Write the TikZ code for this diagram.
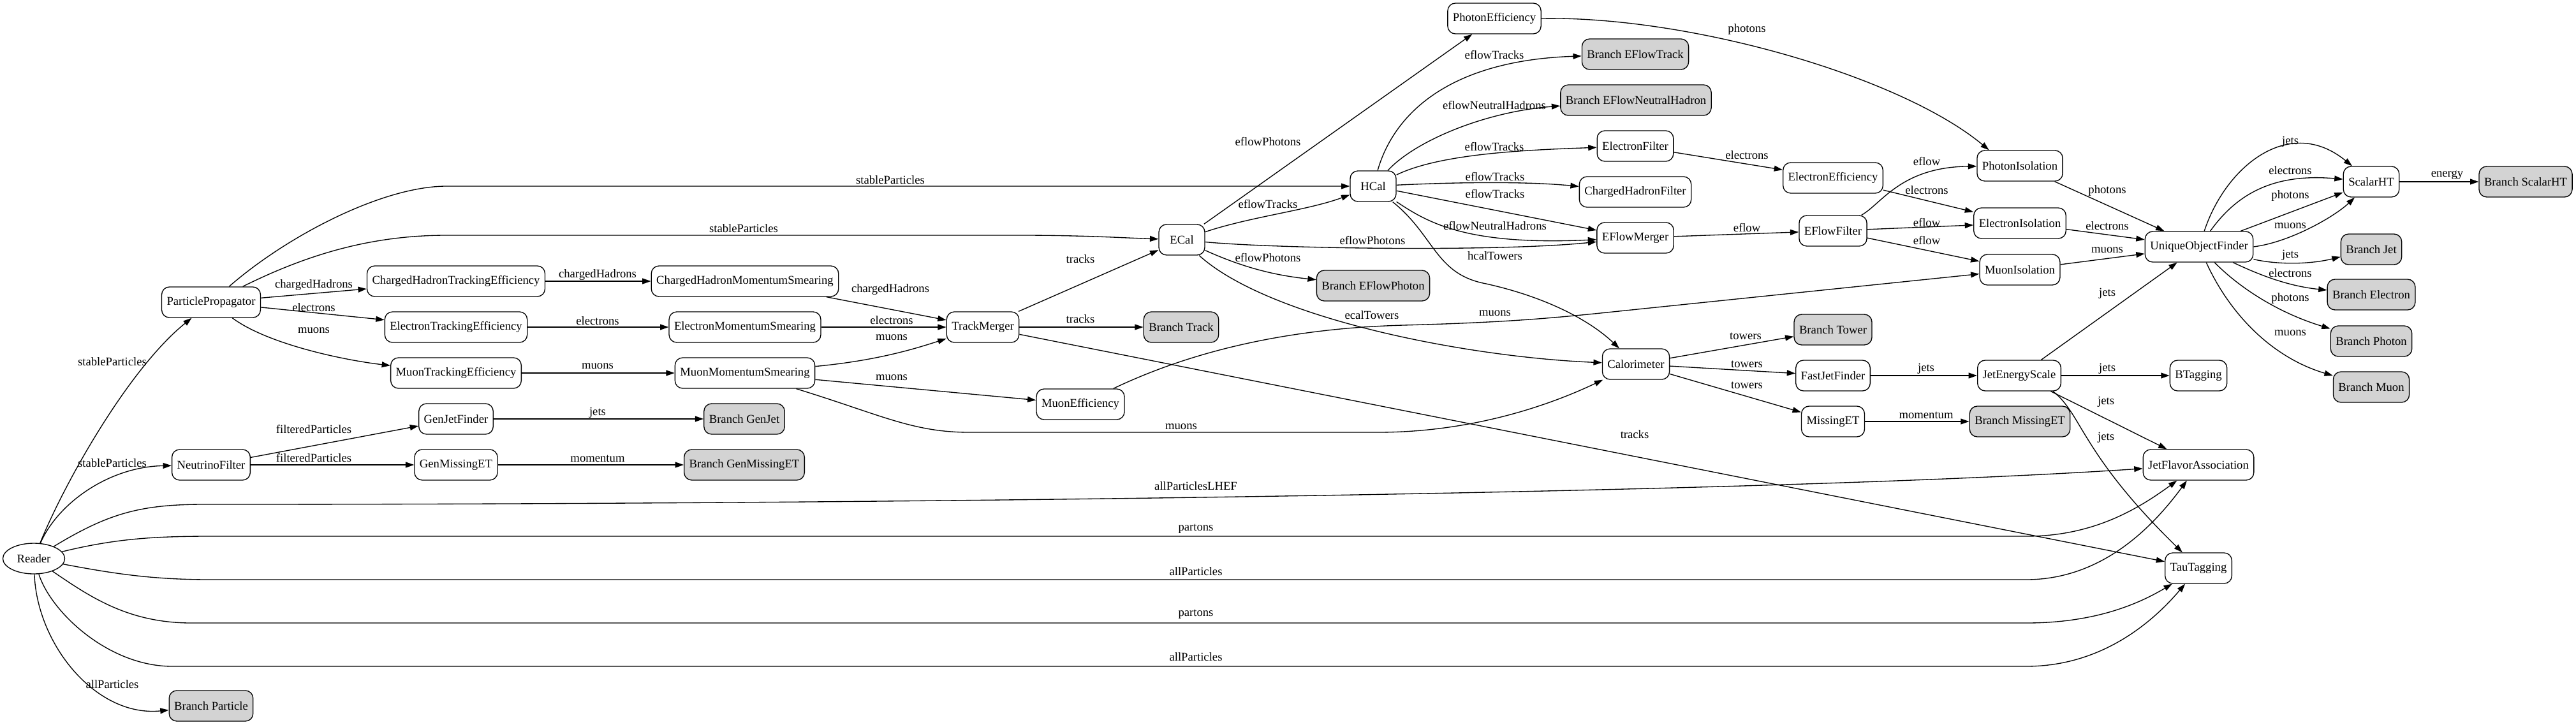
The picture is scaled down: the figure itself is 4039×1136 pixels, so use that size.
\documentclass[tikz,border=0pt]{standalone}
\usepackage{fontspec}
\setmainfont{Liberation Serif}
\usepackage[dvipsnames]{xcolor}
\usetikzlibrary{arrows.meta,shapes.geometric}
\definecolor{BranchGray}{HTML}{D3D3D3}

\begin{document}
\begin{tikzpicture}[x = 0.75pt, y = -0.75pt,
    module/.style = {draw, line width = 1pt, rounded corners = 9pt, minimum height = 36pt, minimum width = 54pt, inner xsep = 6pt, font = \fontsize{14}{16}\selectfont},
    branch/.style = {module, fill = BranchGray},
    flow/.style = {line width = 1pt, -{Triangle[length = 10pt, width = 6.7pt]}},
    edgelabel/.style = {inner sep = 0pt, font = \fontsize{14}{16}\selectfont}]
              \useasboundingbox (0,0) rectangle (4039,1136);
              \node [draw, ellipse, line width = 1pt, minimum width = 72.75pt, minimum height = 36pt, inner sep = 0pt, font = \fontsize{14}{16}\selectfont] (reader) at (53,876) {Reader};
              \foreach \name/\x/\y/\txt in {propagator/331/474/ParticlePropagator, neutrino/331/729/NeutrinoFilter,
                chte/715/441/ChargedHadronTrackingEfficiency, ete/715/513/ElectronTrackingEfficiency, mte/715/585/MuonTrackingEfficiency,
                genjet/715/657/GenJetFinder, genmet/715/729/GenMissingET,
                chms/1168/441/ChargedHadronMomentumSmearing, ems/1168/513/ElectronMomentumSmearing, mms/1168/585/MuonMomentumSmearing,
                trackmerger/1541/513/TrackMerger, muoneff/1694/634/MuonEfficiency, ecal/1853/376/ECal, hcal/2153/292/HCal,
                photoneff/2343/29/PhotonEfficiency, efilter/2564/229/ElectronFilter, chfilter/2564/301/ChargedHadronFilter,
                eflowmerger/2564/373/EFlowMerger, calo/2565/571/Calorimeter, electroneff/2874/279/ElectronEfficiency,
                eflowfilter/2874/362/EFlowFilter, fastjet/2874/589/FastJetFinder, missinget/2874/661/MissingET,
                photoniso/3167/260/PhotonIsolation, electroniso/3167/350/ElectronIsolation, muoniso/3167/423/MuonIsolation,
                jes/3166/589/JetEnergyScale, uof/3448/387/UniqueObjectFinder, btagging/3447/589/BTagging,
                jetflavor/3447/729/JetFlavorAssociation, tautagging/3447/891/TauTagging, scalarht/3718/285/ScalarHT}
              \node [module] (\name) at (\x,\y) {\txt};
              \foreach \name/\x/\y/\txt in {bparticle/331/1107/Branch Particle, bgenjet/1167/657/Branch GenJet,
                bgenmet/1167/729/Branch GenMissingET, btrack/1852/513/Branch Track, beflowphoton/2153/448/Branch EFlowPhoton,
                beflowtrack/2564/85/Branch EFlowTrack, beflowneutral/2565/157/Branch EFlowNeutralHadron,
                btower/2874/517/Branch Tower, bmissinget/3167/661/Branch MissingET, bscalarht/3960/285/Branch ScalarHT,
                bjet/3718/391/Branch Jet, belectron/3718/462/Branch Electron, bphoton/3718/535/Branch Photon,
                bmuon/3718/607/Branch Muon}
              \node [branch] (\name) at (\x,\y) {\txt};
              \foreach \from/\to/\txt/\lx/\ly [count = \i] in {propagator/chte/chargedHadrons/492/447,
                propagator/ete/electrons/492/482, chte/chms/chargedHadrons/937/431, ete/ems/electrons/937/503,
                mte/mms/muons/937/574, neutrino/genjet/filteredParticles/492/673, neutrino/genmet/filteredParticles/492/718,
                genjet/bgenjet/jets/937/647, genmet/bgenmet/momentum/937/719, chms/trackmerger/chargedHadrons/1396/454,
                ems/trackmerger/electrons/1398/502, mms/muoneff/muons/1398/592, trackmerger/ecal/tracks/1694/406,
                trackmerger/btrack/tracks/1694/500, trackmerger/tautagging/tracks/2563/681, ecal/photoneff/eflowPhotons/1988/222,
                hcal/eflowmerger/eflowTracks/2344/304, efilter/electroneff/electrons/2739/243, eflowmerger/eflowfilter/eflow/2739/357,
                electroneff/electroniso/electrons/3021/298, eflowfilter/electroniso/eflow/3021/349, eflowfilter/muoniso/eflow/3021/377,
                calo/btower/towers/2737/527, calo/fastjet/towers/2739/571, calo/missinget/towers/2739/604,
                missinget/bmissinget/momentum/3020/651, fastjet/jes/jets/3020/578, jes/btagging/jets/3304/578,
                jes/uof/jets/3304/460, jes/jetflavor/jets/3302/630, photoniso/uof/photons/3304/299,
                electroniso/uof/electrons/3304/354, muoniso/uof/muons/3304/392, uof/scalarht/photons/3591/307,
                scalarht/bscalarht/energy/3837/275}
              {\draw [flow] (\from) -- (\to);
              \node [edgelabel] (line\i) at (\lx,\ly) {\txt};}
              \draw [flow] (reader) .. controls (100,760) and (200,580) .. (propagator);
              \node [edgelabel] (l-stable1) at (176,567) {stableParticles};
              \draw [flow] (reader) .. controls (90,790) and (170,732) .. (neutrino);
              \node [edgelabel] (l-stable2) at (176,726) {stableParticles};
              \draw [flow] (reader) .. controls (58,1010) and (150,1125) .. (bparticle);
              \node [edgelabel] (l-all1) at (176,1073) {allParticles};
              \draw [flow] (reader) .. controls (170,805) and (220,791) .. (320,791) .. controls (1500,791) and (2800,772) .. (jetflavor);
              \node [edgelabel] (l-lhef) at (1875,762) {allParticlesLHEF};
              \draw [flow] (reader) .. controls (180,845) and (240,841) .. (330,841) -- (3177,841) .. controls (3280,841) and (3350,800) .. (jetflavor);
              \node [edgelabel] (l-partons1) at (1875,829) {partons};
              \draw [flow] (reader) .. controls (180,900) and (240,909) .. (330,909) -- (3177,909) .. controls (3300,909) and (3380,820) .. (jetflavor);
              \node [edgelabel] (l-all2) at (1875,896) {allParticles};
              \draw [flow] (reader) .. controls (140,935) and (200,977) .. (300,977) -- (3177,977) .. controls (3270,977) and (3340,955) .. (tautagging);
              \node [edgelabel] (l-partons2) at (1875,963) {partons};
              \draw [flow] (reader) .. controls (80,960) and (170,1045) .. (270,1045) -- (3177,1045) .. controls (3300,1045) and (3380,970) .. (tautagging);
              \node [edgelabel] (l-all3) at (1875,1030) {allParticles};
              \draw [flow] (propagator) .. controls (450,370) and (600,292) .. (700,292) -- (hcal);
              \node [edgelabel] (l-stable3) at (1396,282) {stableParticles};
              \draw [flow] (propagator) .. controls (480,400) and (580,369) .. (700,369) -- (1600,369) .. controls (1700,369) and (1760,373) .. (ecal);
              \node [edgelabel] (l-stable4) at (1166,358) {stableParticles};
              \draw [flow] (propagator) .. controls (420,540) and (540,565) .. (mte);
              \node [edgelabel] (l-muons1) at (492,518) {muons};
              \draw [flow] (mms) .. controls (1380,565) and (1440,545) .. (trackmerger);
              \node [edgelabel] (l-muons2) at (1398,529) {muons};
              \draw [flow] (mms) .. controls (1380,650) and (1430,678) .. (1520,678) -- (2160,678) .. controls (2300,678) and (2420,640) .. (calo);
              \node [edgelabel] (l-muons3) at (1852,669) {muons};
              \draw [flow] (ecal) .. controls (1960,340) and (2050,330) .. (hcal);
              \node [edgelabel] (l-etracks1) at (1988,320) {eflowTracks};
              \draw [flow] (ecal) .. controls (2000,390) and (2350,395) .. (eflowmerger);
              \node [edgelabel] (l-ephotons1) at (2152,377) {eflowPhotons};
              \draw [flow] (ecal) .. controls (1950,420) and (2000,432) .. (beflowphoton);
              \node [edgelabel] (l-ephotons2) at (1988,404) {eflowPhotons};
              \draw [flow] (ecal) .. controls (1990,500) and (2300,560) .. (calo);
              \node [edgelabel] (l-ecaltowers) at (2151,494) {ecalTowers};
              \draw [flow] (hcal) .. controls (2185,180) and (2270,95) .. (beflowtrack);
              \node [edgelabel] (l-etracks2) at (2343,86) {eflowTracks};
              \draw [flow] (hcal) .. controls (2220,220) and (2330,175) .. (beflowneutral);
              \node [edgelabel] (l-eneutral1) at (2343,165) {eflowNeutralHadrons};
              \draw [flow] (hcal) .. controls (2260,240) and (2400,235) .. (efilter);
              \node [edgelabel] (l-etracks3) at (2343,230) {eflowTracks};
              \draw [flow] (hcal) .. controls (2300,285) and (2400,285) .. (chfilter);
              \node [edgelabel] (l-etracks4) at (2344,277) {eflowTracks};
              \draw [flow] (hcal) .. controls (2240,350) and (2300,385) .. (eflowmerger);
              \node [edgelabel] (l-eneutral2) at (2344,354) {eflowNeutralHadrons};
              \draw [flow] (hcal) .. controls (2250,370) and (2250,430) .. (2330,445) .. controls (2420,465) and (2490,500) .. (calo);
              \node [edgelabel] (l-hcaltowers) at (2344,401) {hcalTowers};
              \draw [flow] (muoneff) .. controls (1870,550) and (2020,515) .. (2200,510) .. controls (2350,506) and (2420,500) .. (2500,492) -- (muoniso);
              \node [edgelabel] (l-muons4) at (2344,491) {muons};
              \draw [flow] (photoneff.east) .. controls (2650,25) and (2980,120) .. (photoniso.153);
              \node [edgelabel] (l-photons1) at (2739,46) {photons};
              \draw [flow] (eflowfilter) .. controls (2950,320) and (2980,262) .. (photoniso);
              \node [edgelabel] (l-eflow1) at (3021,253) {eflow};
              \draw [flow] (jes.-25) .. controls (3265,650) and (3262,710) .. (tautagging);
              \node [edgelabel] (l-jets1) at (3302,686) {jets};
              \draw [flow] (uof) .. controls (3490,260) and (3590,180) .. (scalarht);
              \node [edgelabel] (l-jets2) at (3591,222) {jets};
              \draw [flow] (uof) .. controls (3510,300) and (3570,272) .. (scalarht);
              \node [edgelabel] (l-electrons1) at (3591,267) {electrons};
              \draw [flow] (uof.east) .. controls (3590,380) and (3660,340) .. (scalarht);
              \node [edgelabel] (l-muons5) at (3591,354) {muons};
              \draw [flow] (uof) .. controls (3570,415) and (3620,415) .. (bjet);
              \node [edgelabel] (l-jets3) at (3591,400) {jets};
              \draw [flow] (uof) .. controls (3530,425) and (3580,448) .. (belectron);
              \node [edgelabel] (l-electrons2) at (3591,428) {electrons};
              \draw [flow] (uof) .. controls (3510,450) and (3570,490) .. (bphoton);
              \node [edgelabel] (l-photons2) at (3591,468) {photons};
              \draw [flow] (uof) .. controls (3495,490) and (3560,560) .. (bmuon);
              \node [edgelabel] (l-muons6) at (3591,522) {muons};
            \end{tikzpicture}
\end{document}
